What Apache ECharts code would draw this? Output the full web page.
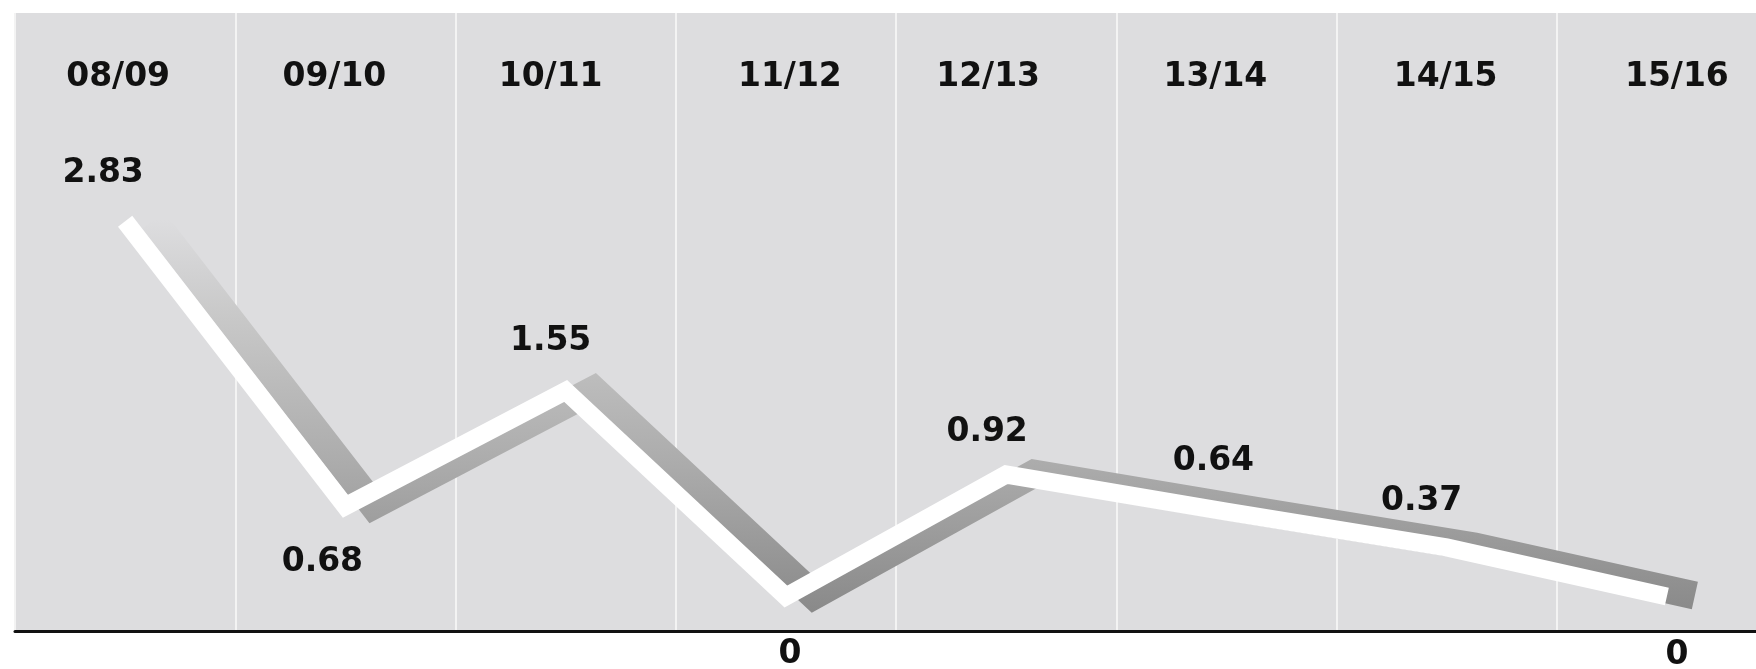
<!DOCTYPE html>
<html>
<head>
<meta charset="utf-8">
<style>
  html, body { margin: 0; padding: 0; background: #ffffff; }
  #chart { width: 1756px; height: 669px; }
</style>
<script src="https://cdn.jsdelivr.net/npm/echarts@6/dist/echarts.min.js"></script>
</head>
<body>
<div id="chart"></div>
<script>
// ---- data ----
const categories = ['08/09', '09/10', '10/11', '11/12', '12/13', '13/14', '14/15', '15/16'];
const values = [2.83, 0.68, 1.55, 0, 0.92, 0.64, 0.37, 0];

// ---- style / layout (not data) ----
const labelOffsets = [[-22, -48], [-23, 56], [-15, -50], [4, 58], [-19, -42], [-13, -50], [-25, -46], [10, 59]];
const categoryLabelShift = [-7, -11, -15, 4, -18, -11, -1, 10];
const FONT = '"DejaVu Sans", Verdana, sans-serif';
const GRID_LEFT = 15, GRID_WIDTH = 1762, GRID_TOP = 13, GRID_BOTTOM = 38;
const SHADOW_DX = 28, SHADOW_DY = -1;
const Y_MIN = -0.26, Y_MAX = 4.4;

const chart = echarts.init(document.getElementById('chart'), null, { renderer: 'canvas' });

const shadowGradient = {
  type: 'linear', x: 0, y: 220, x2: 0, y2: 610, global: true,
  colorStops: [
    { offset: 0, color: 'rgba(221,221,223,1)' },
    { offset: 0.25, color: '#c8c8c8' },
    { offset: 0.62, color: '#acacac' },
    { offset: 1, color: '#8a8a8a' }
  ]
};

const catRich = {};
categoryLabelShift.forEach((s, i) => {
  catRich['c' + i] = {
    color: '#111111', fontFamily: FONT, fontWeight: 'bold', fontSize: 33,
    padding: s < 0 ? [0, -2 * s, 0, 0] : [0, 0, 0, 2 * s]
  };
});

const option = {
  animation: false,
  backgroundColor: '#ffffff',
  grid: [
    { left: GRID_LEFT, width: GRID_WIDTH, top: GRID_TOP, bottom: GRID_BOTTOM, outerBoundsMode: 'none',
      containLabel: false, show: true, backgroundColor: '#dddddf', borderWidth: 0 },
    { left: GRID_LEFT + SHADOW_DX, width: GRID_WIDTH, top: GRID_TOP + SHADOW_DY,
      bottom: GRID_BOTTOM - SHADOW_DY, outerBoundsMode: 'none', containLabel: false, show: false }
  ],
  xAxis: [
    { type: 'category', gridIndex: 0, data: categories, boundaryGap: true, position: 'bottom',
      axisLine: { show: true, onZero: false, lineStyle: { color: '#111111', width: 3 } },
      axisTick: { show: false }, axisLabel: { show: false },
      splitLine: { show: true, interval: 0, lineStyle: { color: '#f3f3f3', width: 2 } } },
    { type: 'category', gridIndex: 0, data: categories, boundaryGap: true, position: 'top',
      axisLine: { show: false }, axisTick: { show: false }, splitLine: { show: false },
      axisLabel: { show: true, inside: true, margin: 48, interval: 0, hideOverlap: false,
        color: '#111111', fontFamily: FONT, fontWeight: 'bold', fontSize: 33,
        formatter: (val, idx) => '{c' + idx + '|' + val + '}', rich: catRich } },
    { type: 'category', gridIndex: 1, data: categories, boundaryGap: true, show: false }
  ],
  yAxis: [
    { type: 'value', gridIndex: 0, min: Y_MIN, max: Y_MAX, show: false, splitLine: { show: false } },
    { type: 'value', gridIndex: 1, min: Y_MIN, max: Y_MAX, show: false, splitLine: { show: false } }
  ],
  series: [
    { type: 'line', name: 'depth', xAxisIndex: 2, yAxisIndex: 1, data: values,
      symbol: 'none', z: 3, silent: true, clip: false,
      lineStyle: { color: shadowGradient, width: 28, cap: 'butt', join: 'miter' } },
    { type: 'line', name: 'value', xAxisIndex: 0, yAxisIndex: 0, z: 5,
      data: values.map((v, i) => ({ value: v, label: { offset: labelOffsets[i] } })),
      symbol: 'circle', symbolSize: 1, itemStyle: { color: 'rgba(0,0,0,0)' },
      lineStyle: { color: '#ffffff', width: 18, cap: 'butt', join: 'miter' },
      label: { show: true, position: 'inside', color: '#111111', fontFamily: FONT,
        fontWeight: 'bold', fontSize: 33 } }
  ]
};
chart.setOption(option);
</script>
</body>
</html>
